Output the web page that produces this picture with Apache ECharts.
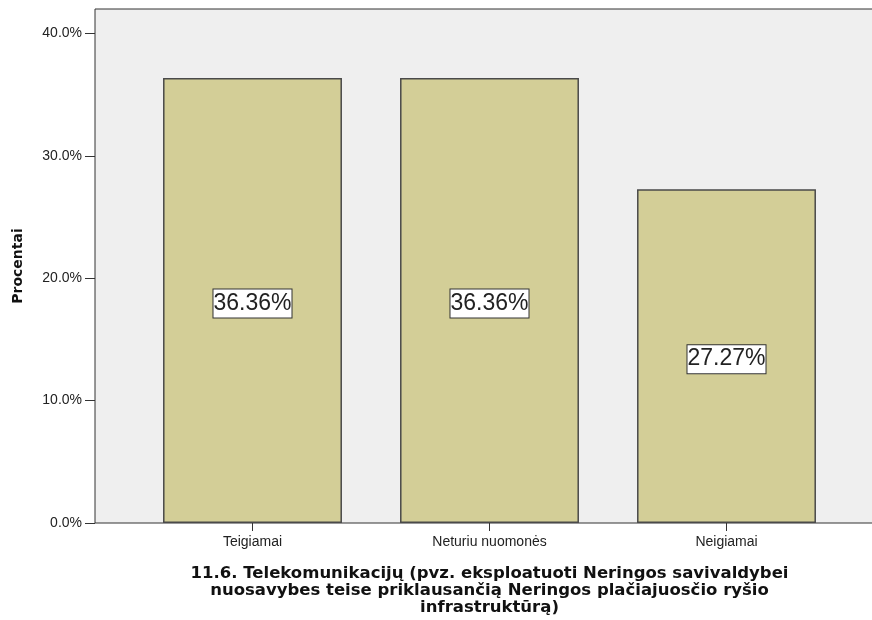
<!DOCTYPE html>
<html>
<head>
<meta charset="utf-8">
<script src="https://cdn.jsdelivr.net/npm/echarts@6/dist/echarts.min.js"></script>
<style>
  html, body { margin: 0; padding: 0; background: #fff; }
  #chart { width: 872px; height: 620px; }
</style>
</head>
<body>
<div id="chart"></div>
<script>
// answer categories and their shares (percent)
const categories = ['Teigiamai', 'Neturiu nuomonės', 'Neigiamai'];
const percents = [36.36, 36.36, 27.27];
const yTicks = [0, 10, 20, 30, 40];

const axisTitle = '11.6. Telekomunikacijų (pvz. eksploatuoti Neringos savivaldybei\nnuosavybes teise priklausančią Neringos plačiajuosčio ryšio\ninfrastruktūrą)';

const chart = echarts.init(document.getElementById('chart'));

const option = {
    animation: false,
    grid: [
        // grey frame behind the bars
        { left: 95, right: -2, top: 9, bottom: 97, show: true, backgroundColor: '#efefef',
          borderColor: '#333', borderWidth: 1, outerBoundsMode: 'none', containLabel: false },
        // bars
        { left: 134, right: 27, top: 9, bottom: 97, outerBoundsMode: 'none', containLabel: false }
    ],
    xAxis: [
        { gridIndex: 0, type: 'value', show: false, min: 0, max: 1 },
        {
            gridIndex: 1,
            type: 'category',
            data: categories,
            axisLine: { show: false },
            axisTick: { show: true, alignWithLabel: true, length: 8, lineStyle: { color: '#333' } },
            axisLabel: { color: '#222', fontFamily: 'Liberation Sans', fontSize: 14, margin: 12 },
            name: axisTitle,
            nameLocation: 'middle',
            nameGap: 42,
            nameTextStyle: {
                fontFamily: 'DejaVu Sans', fontWeight: 'bold', fontSize: 16.5,
                color: '#111', lineHeight: 17, verticalAlign: 'top'
            }
        }
    ],
    yAxis: [
        { gridIndex: 0, type: 'value', show: false, min: 0, max: 1 },
        {
            gridIndex: 1,
            type: 'value',
            min: 0,
            max: 42,
            interval: 10,
            offset: 39,
            splitLine: { show: false },
            axisLine: { show: false },
            axisTick: { show: true, length: 10, customValues: yTicks, lineStyle: { color: '#333' } },
            axisLabel: {
                color: '#222', fontFamily: 'Liberation Sans', fontSize: 14, margin: 13,
                customValues: yTicks,
                formatter: function (v) { return v.toFixed(1) + '%'; }
            },
            name: 'Procentai',
            nameLocation: 'middle',
            nameGap: 70,
            nameRotate: 90,
            nameTextStyle: { fontFamily: 'DejaVu Sans', fontWeight: 'bold', fontSize: 14, color: '#111' }
        }
    ],
    series: [{
        type: 'bar',
        xAxisIndex: 1,
        yAxisIndex: 1,
        data: percents,
        barCategoryGap: '24.5%',
        itemStyle: { color: '#d3ce97', borderColor: '#4a4a4a', borderWidth: 1.5 },
        label: {
            show: true,
            position: 'inside',
            offset: [0, 3],
            formatter: function (p) { return p.value.toFixed(2) + '%'; },
            fontFamily: 'Liberation Sans',
            fontSize: 23,
            lineHeight: 26,
            color: '#222',
            backgroundColor: '#fff',
            borderColor: '#333',
            borderWidth: 1,
            padding: [2, 0, 0, 0]
        }
    }]
};

chart.setOption(option);
</script>
</body>
</html>
